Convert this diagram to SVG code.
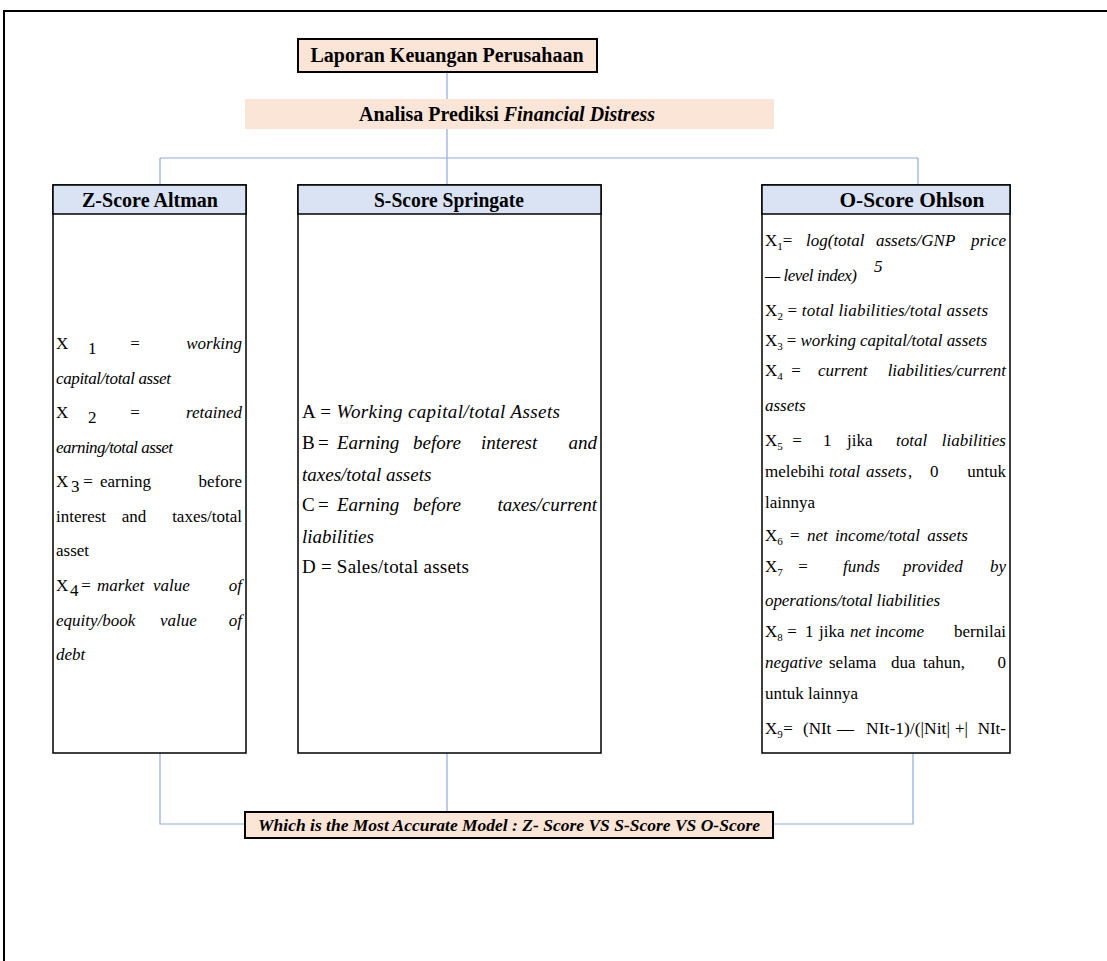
<svg xmlns="http://www.w3.org/2000/svg" width="1107" height="961" viewBox="0 0 1107 961">
<style>
text{font-family:"Liberation Serif","Times New Roman",serif;font-size:17px;fill:#000}
.b{font-weight:bold}
.i{font-style:italic}
.h{font-weight:bold;font-size:20px;text-anchor:middle}
.e{text-anchor:end}
.m{text-anchor:middle}
.s{font-size:19px}
.box{fill:#fff;stroke:#000;stroke-width:1.5}
.hdr{fill:#dae3f3;stroke:#000;stroke-width:1.5}
.pink{fill:#fbe5d6}
.con{fill:none;stroke:#8faadc;stroke-width:1.2}
</style>
<rect width="1107" height="961" fill="#fff"/>
<path d="M4,961 V11 H1107" fill="none" stroke="#000" stroke-width="2"/>

<g id="connectors">
<path class="con" d="M447,72 V99"/>
<path class="con" d="M447,129 V185"/>
<path class="con" d="M160,158 H918"/>
<path class="con" d="M160,158 V185"/>
<path class="con" d="M918,158 V185"/>
<path class="con" d="M160,753 V824 H245"/>
<path class="con" d="M447,753 V812"/>
<path class="con" d="M913,753 V824 H773"/>
</g>

<g id="laporan">
<rect x="298" y="39" width="299" height="33" class="pink" stroke="#000" stroke-width="2"/>
<text x="447" y="62" class="h" font-size="21" textLength="273" lengthAdjust="spacingAndGlyphs">Laporan Keuangan Perusahaan</text>
</g>

<g id="analisa">
<rect x="245" y="99" width="529" height="30" class="pink"/>
<text x="507" y="121" class="h" textLength="296" lengthAdjust="spacingAndGlyphs">Analisa Prediksi <tspan class="i">Financial Distress</tspan></text>
</g>

<g id="zscore">
<rect x="53" y="185" width="193" height="568" class="box"/>
<rect x="53" y="185" width="193" height="29" class="hdr"/>
<text x="150" y="207" class="h" textLength="136" lengthAdjust="spacingAndGlyphs">Z-Score Altman</text>
<text x="56" y="349">X</text><text x="88" y="354" font-size="10">1</text><text x="135" y="349" class="m">=</text><text x="242" y="349" class="i e">working</text>
<text x="56" y="384" class="i" textLength="115" lengthAdjust="spacing">capital/total asset</text>
<text x="56" y="418">X</text><text x="88" y="423" font-size="10">2</text><text x="135" y="418" class="m">=</text><text x="242" y="418" class="i e">retained</text>
<text x="56" y="453" class="i" textLength="117" lengthAdjust="spacing">earning/total asset</text>
<text x="56" y="487">X</text><text x="71" y="492" font-size="10">3</text><text x="88" y="487" class="m">=</text><text x="100" y="487">earning</text><text x="242" y="487" class="e">before</text>
<text x="56" y="522">interest</text><text x="134" y="522" class="m">and</text><text x="242" y="522" class="e">taxes/total</text>
<text x="56" y="556">asset</text>
<text x="56" y="591">X</text><text x="70" y="596" font-size="10">4</text><text x="86" y="591" class="m">=</text><text x="97" y="591" class="i">market</text><text x="153" y="591" class="i">value</text><text x="242" y="591" class="i e">of</text>
<text x="56" y="626" class="i">equity/book</text><text x="160" y="626" class="i">value</text><text x="242" y="626" class="i e">of</text>
<text x="56" y="660" class="i">debt</text>
</g>

<g id="sscore">
<rect x="298" y="185" width="303" height="568" class="box"/>
<rect x="298" y="185" width="303" height="29" class="hdr"/>
<text x="449" y="207" class="h" textLength="150" lengthAdjust="spacingAndGlyphs">S-Score Springate</text>
<text x="302" y="418" class="s" textLength="258" lengthAdjust="spacing">A = <tspan class="i">Working capital/total Assets</tspan></text>
<text x="302" y="449" class="s">B</text><text x="318" y="449" class="s">=</text><text x="337" y="449" class="s i">Earning</text><text x="413" y="449" class="s i">before</text><text x="481" y="449" class="s i">interest</text><text x="597" y="449" class="s i e">and</text>
<text x="302" y="481" class="s i">taxes/total assets</text>
<text x="302" y="511" class="s">C</text><text x="318" y="511" class="s">=</text><text x="337" y="511" class="s i">Earning</text><text x="413" y="511" class="s i">before</text><text x="597" y="511" class="s i e">taxes/current</text>
<text x="302" y="543" class="s i">liabilities</text>
<text x="302" y="573" class="s" textLength="167" lengthAdjust="spacing">D = Sales/total assets</text>
</g>

<g id="oscore">
<rect x="762" y="185" width="248" height="568" class="box"/>
<rect x="762" y="185" width="248" height="29" class="hdr"/>
<text x="912" y="207" class="h" textLength="145" lengthAdjust="spacingAndGlyphs">O-Score Ohlson</text>
<text x="765" y="246">X<tspan font-size="11" dy="4">1</tspan><tspan dy="-4">=</tspan></text><text x="806" y="246" class="i">log(total</text><text x="876" y="246" class="i">assets/GNP</text><text x="1006" y="246" class="i e">price</text>
<text x="765" y="281" class="i" textLength="92" lengthAdjust="spacing">— level index)</text><text x="874" y="272" class="i" font-size="10">5</text>
<text x="765" y="316" textLength="223" lengthAdjust="spacing">X<tspan font-size="11" dy="4">2</tspan><tspan dy="-4"> = </tspan><tspan class="i">total liabilities/total assets</tspan></text>
<text x="765" y="346" textLength="222" lengthAdjust="spacing">X<tspan font-size="11" dy="4">3</tspan><tspan dy="-4"> = </tspan><tspan class="i">working capital/total assets</tspan></text>
<text x="765" y="376">X<tspan font-size="11" dy="4">4</tspan></text><text x="796" y="376" class="m">=</text><text x="818" y="376" class="i">current</text><text x="1006" y="376" class="i e">liabilities/current</text>
<text x="765" y="411" class="i">assets</text>
<text x="765" y="446">X<tspan font-size="11" dy="4">5</tspan></text><text x="797" y="446" class="m">=</text><text x="823" y="446">1</text><text x="847" y="446">jika</text><text x="896" y="446" class="i">total</text><text x="1006" y="446" class="i e">liabilities</text>
<text x="765" y="477">melebihi</text><text x="829" y="477" class="i">total</text><text x="866" y="477" class="i">assets</text><text x="908" y="477">,</text><text x="930" y="477">0</text><text x="1006" y="477" class="e">untuk</text>
<text x="765" y="541" word-spacing="3">X<tspan font-size="11" dy="4">6</tspan><tspan dy="-4"> = </tspan><tspan class="i">net  income/total assets</tspan></text>
<text x="765" y="508">lainnya</text>
<text x="765" y="572">X<tspan font-size="11" dy="4">7</tspan></text><text x="803" y="572" class="m">=</text><text x="843" y="572" class="i">funds</text><text x="903" y="572" class="i">provided</text><text x="1006" y="572" class="i e">by</text>
<text x="765" y="606" class="i" textLength="175" lengthAdjust="spacing">operations/total liabilities</text>
<text x="765" y="637">X<tspan font-size="11" dy="4">8</tspan></text><text x="792" y="637" class="m">=</text><text x="805" y="637">1</text><text x="819" y="637">jika</text><text x="850" y="637" class="i">net income</text><text x="1006" y="637" class="e">bernilai</text>
<text x="765" y="668" class="i">negative</text><text x="829" y="668">selama</text><text x="891" y="668">dua</text><text x="923" y="668">tahun,</text><text x="1006" y="668" class="e">0</text>
<text x="765" y="699">untuk lainnya</text>
<text x="765" y="734">X<tspan font-size="11" dy="4">9</tspan></text><text x="788" y="734" class="m">=</text><text x="803" y="734">(NIt</text><text x="837" y="734">—</text><text x="866" y="734" textLength="84" lengthAdjust="spacingAndGlyphs">NIt-1)/(|Nit|</text><text x="955" y="734">+|</text><text x="1006" y="734" class="e">NIt-</text>
</g>

<g id="result">
<rect x="245" y="812" width="528" height="26" class="pink" stroke="#000" stroke-width="2"/>
<text x="509" y="831" class="b i m" font-size="18" textLength="502" lengthAdjust="spacingAndGlyphs">Which is the Most Accurate Model : Z- Score VS  S-Score VS O-Score</text>
</g>
</svg>
